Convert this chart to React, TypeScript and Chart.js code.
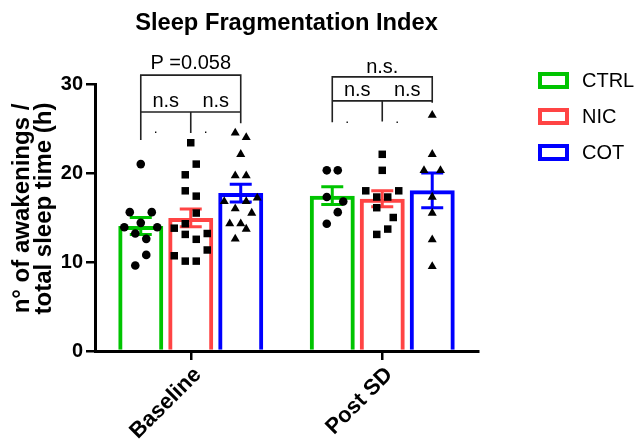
import React, { useEffect, useRef } from "react";
import { Chart, registerables } from "chart.js";

Chart.register(...registerables);

// ---------- data ----------
const categories = ["Baseline", "Post SD"];
const groups = ["CTRL", "NIC", "COT"];

const ctrlMeans = [14.05, 17.45];
const nicMeans = [14.95, 17.1];
const cotMeans = [17.75, 18.05];

const ctrlSem = [0.95, 1.0];
const nicSem = [1.0, 0.9];
const cotSem = [1.0, 1.95];

const ctrlBaseline = [21.0, 15.6, 15.6, 14.4, 13.9, 13.9, 13.2, 12.6, 10.8, 9.6];
const ctrlBaselineJitter = [0, -2, 2, 0, -3, 3, -1, 1, 1, -1];
const nicBaseline = [23.4, 21.0, 19.8, 18.0, 17.4, 15.5, 14.3, 13.8, 13.2, 13.1, 12.55, 11.35, 10.7, 10.1, 10.1];
const nicBaselineJitter = [0, 1, -1, -1, 1, 1, -1, -3, 3, -1, 1, 3, -3, -1, 1];
const cotBaseline = [24.5, 24.0, 22.1, 19.7, 19.7, 17.2, 16.8, 16.8, 16.0, 15.5, 14.3, 14.3, 13.7, 12.6];
const cotBaselineJitter = [-1, 1, 0, -1, 1, 3, -3, 1, -1, 2, -2, 0, 1, -1];

const ctrlPost = [20.3, 20.3, 17.3, 16.8, 15.6, 14.3];
const ctrlPostJitter = [-1, 1, -1, 2, 1, -1];
const nicPost = [22.1, 20.3, 18.0, 18.0, 17.3, 17.3, 16.1, 15.0, 13.7, 13.1];
const nicPostJitter = [0, 0, -3, 3, -1, 1, -1, 2, 1, -1];
const cotPost = [26.5, 22.1, 20.3, 20.3, 17.3, 15.5, 12.5, 9.5];
const cotPostJitter = [0, 0, -1.5, 1.5, 0, 0, 0, 0];

const yTicks = [0, 10, 20, 30];
const yTitleLines = ["n° of awakenings /", "total sleep time (h)"];
const chartTitle = "Sleep Fragmentation Index";

// significance annotations (values in y-axis units)
const bracketTopY = [31.0, 30.8];
const bracketLowY = [26.85, 28.1];
const bracketLegEnds = [
  [23.7, 24.5, 25.6],
  [25.7, 25.8, 27.9],
];
const overallLabels = ["P =0.058", "n.s."];
const overallLabelY = [32.3, 31.9];
const pairLabels = ["n.s", "n.s"];
const pairLabelY = [28.0, 29.3];
const dotLabelY = [24.7, 25.8];

// ---------- styles ----------
const FONT = "'Liberation Sans', Arial, Helvetica, sans-serif";
const groupColors = ["#00c400", "#ff4444", "#0000ff"];
const pointStyles = ["circle", "rect", "triangle"];
const pointRadii = [4.3, 5.3, 5.2];
const BAR_SPACING = 0.261; // category units between bar centres in a group
const BAR_PCT = 0.9;
const JITTER_STEP = 0.0287; // category units per jitter step

export default function App() {
  const ref = useRef<HTMLCanvasElement>(null);

  useEffect(() => {
    const canvas = ref.current;
    if (!canvas) return;

    const means = [ctrlMeans, nicMeans, cotMeans];
    const sems = [ctrlSem, nicSem, cotSem];
    const points = [
      [ctrlBaseline, ctrlPost],
      [nicBaseline, nicPost],
      [cotBaseline, cotPost],
    ];
    const jitters = [
      [ctrlBaselineJitter, ctrlPostJitter],
      [nicBaselineJitter, nicPostJitter],
      [cotBaselineJitter, cotPostJitter],
    ];

    const barDatasets: any[] = groups.map((g, s) => ({
      type: "bar",
      label: g,
      data: categories.map((_, ci) => ({ x: ci + (s - 1) * BAR_SPACING, y: means[s][ci] })),
      grouped: false,
      backgroundColor: "rgba(255,255,255,0)",
      borderColor: groupColors[s],
      borderWidth: 4,
      borderSkipped: "start",
      categoryPercentage: 1,
      barPercentage: BAR_PCT,
      maxBarThickness: 45,
      xAxisID: "barX",
      yAxisID: "y",
      order: 2,
    }));

    const scatterDatasets: any[] = groups.map((g, s) => {
      const data: { x: number; y: number }[] = [];
      categories.forEach((_, ci) => {
        const center = ci + (s - 1) * BAR_SPACING;
        points[s][ci].forEach((v, k) => {
          data.push({ x: center + jitters[s][ci][k] * JITTER_STEP, y: v });
        });
      });
      return {
        type: "scatter",
        label: g + " points",
        data,
        xAxisID: "ptX",
        yAxisID: "y",
        pointStyle: pointStyles[s],
        pointRadius: pointRadii[s],
        pointHoverRadius: pointRadii[s],
        backgroundColor: "#000",
        borderColor: "#000",
        borderWidth: 0,
        order: 0,
      };
    });

    const errorBarPlugin = {
      id: "errorBars",
      afterDatasetDraw(chart: any, args: any) {
        const meta = args.meta;
        if (meta.type !== "bar") return;
        const s = args.index;
        const ctx = chart.ctx;
        const y = chart.scales.y;
        ctx.save();
        ctx.strokeStyle = groupColors[s];
        ctx.lineWidth = 3;
        meta.data.forEach((el: any, i: number) => {
          const x = el.x;
          const top = y.getPixelForValue(means[s][i] + sems[s][i]);
          const bot = y.getPixelForValue(means[s][i] - sems[s][i]);
          const hw = 11;
          ctx.beginPath();
          ctx.moveTo(x, top);
          ctx.lineTo(x, bot);
          ctx.moveTo(x - hw, top);
          ctx.lineTo(x + hw, top);
          ctx.moveTo(x - hw, bot);
          ctx.lineTo(x + hw, bot);
          ctx.stroke();
        });
        ctx.restore();
      },
    };

    const annotationPlugin = {
      id: "annotations",
      afterDraw(chart: any) {
        const ctx = chart.ctx;
        const y = chart.scales.y;
        const area = chart.chartArea;
        ctx.save();
        // title
        ctx.fillStyle = "#000";
        ctx.font = `bold 23.7px ${FONT}`;
        ctx.textAlign = "center";
        ctx.textBaseline = "middle";
        ctx.fillText(chartTitle, (area.left + area.right) / 2, 23);

        // y axis title
        ctx.save();
        ctx.translate(area.left - 73, (area.top + area.bottom) / 2 - 9);
        ctx.rotate(-Math.PI / 2);
        ctx.font = `bold 24px ${FONT}`;
        yTitleLines.forEach((line, i) => ctx.fillText(line, 0, i * 22.5));
        ctx.restore();

        // brackets
        categories.forEach((_, ci) => {
          const xs = [0, 1, 2].map((s) => chart.getDatasetMeta(s).data[ci].x);
          const pTop = y.getPixelForValue(bracketTopY[ci]);
          const pLow = y.getPixelForValue(bracketLowY[ci]);
          ctx.strokeStyle = "#222";
          ctx.lineWidth = 1.6;
          ctx.beginPath();
          ctx.moveTo(xs[0], pLow);
          ctx.lineTo(xs[0], pTop);
          ctx.lineTo(xs[2], pTop);
          ctx.lineTo(xs[2], pLow);
          ctx.moveTo(xs[0], pLow);
          ctx.lineTo(xs[2], pLow);
          xs.forEach((x, s) => {
            ctx.moveTo(x, pLow);
            ctx.lineTo(x, y.getPixelForValue(bracketLegEnds[ci][s]));
          });
          ctx.stroke();

          ctx.fillStyle = "#000";
          ctx.font = `20px ${FONT}`;
          ctx.textAlign = "center";
          ctx.textBaseline = "middle";
          ctx.fillText(overallLabels[ci], (xs[0] + xs[2]) / 2, y.getPixelForValue(overallLabelY[ci]));
          ctx.fillText(pairLabels[ci], (xs[0] + xs[1]) / 2, y.getPixelForValue(pairLabelY[ci]));
          ctx.fillText(pairLabels[ci], (xs[1] + xs[2]) / 2, y.getPixelForValue(pairLabelY[ci]));
          ctx.textBaseline = "alphabetic";
          ctx.font = `14px ${FONT}`;
          const dy = y.getPixelForValue(dotLabelY[ci]) + 2;
          ctx.fillText(".", xs[0] + 0.3 * (xs[1] - xs[0]), dy);
          ctx.fillText(".", xs[1] + 0.3 * (xs[2] - xs[1]), dy);
        });

        // legend
        const boxLeft = area.right + 60;
        const boxW = 31;
        const boxH = 17;
        groups.forEach((g, s) => {
          const top = area.top - 12 + s * 36;
          ctx.strokeStyle = groupColors[s];
          ctx.lineWidth = 4;
          ctx.strokeRect(boxLeft + 2, top + 2, boxW - 4, boxH - 4);
          ctx.fillStyle = "#000";
          ctx.font = `20px ${FONT}`;
          ctx.textAlign = "left";
          ctx.textBaseline = "middle";
          ctx.fillText(g, boxLeft + 44, top + boxH / 2 + 0.5);
        });
        ctx.restore();
      },
    };

    const hiddenLinearX = {
      type: "linear",
      axis: "x",
      position: "bottom",
      display: false,
      offset: false,
      min: -0.5,
      max: 1.5,
      grid: { offset: false },
      afterBuildTicks: (s: any) => {
        s.ticks = [{ value: -0.5 }, { value: 1.5 }];
      },
    };

    const chart = new Chart(canvas, {
      type: "bar",
      data: {
        labels: categories,
        datasets: [...barDatasets, ...scatterDatasets],
      },
      options: {
        responsive: false,
        animation: false,
        devicePixelRatio: 1,
        layout: { padding: { left: 0, right: 156, top: 84, bottom: 0 } },
        plugins: {
          legend: { display: false },
          tooltip: { enabled: false },
          title: { display: false },
        },
        scales: {
          x: {
            type: "category",
            labels: categories,
            offset: true,
            grid: {
              offset: false,
              drawOnChartArea: false,
              drawTicks: true,
              tickLength: 9,
              color: "#000",
              lineWidth: 2.5,
            },
            border: { display: true, color: "#000", width: 3 },
            ticks: {
              color: "#000",
              font: { family: FONT, size: 22, weight: "bold" },
              minRotation: 45,
              maxRotation: 45,
              padding: 2,
              labelOffset: 7,
            },
            afterFit: (s: any) => {
              s.height = 91;
            },
          },
          barX: { ...hiddenLinearX },
          ptX: { ...hiddenLinearX },
          y: {
            type: "linear",
            min: 0,
            max: 30,
            stacked: false,
            afterBuildTicks: (s: any) => {
              s.ticks = yTicks.map((v) => ({ value: v }));
            },
            ticks: {
              color: "#000",
              font: { family: FONT, size: 20, weight: "bold" },
              padding: 3,
            },
            grid: {
              drawOnChartArea: false,
              drawTicks: true,
              tickLength: 9,
              color: "#000",
              lineWidth: 2.5,
            },
            border: { display: true, color: "#000", width: 3 },
            title: { display: false },
            afterFit: (s: any) => {
              s.width = 95;
            },
          },
        },
      } as any,
      plugins: [errorBarPlugin, annotationPlugin],
    } as any);

    return () => {
      chart.destroy();
    };
  }, []);

  return (
    <div style={{ position: "absolute", left: 0, top: 0, width: 634, height: 442, background: "#fff" }}>
      <canvas ref={ref} width={634} height={442} style={{ display: "block" }} />
    </div>
  );
}
